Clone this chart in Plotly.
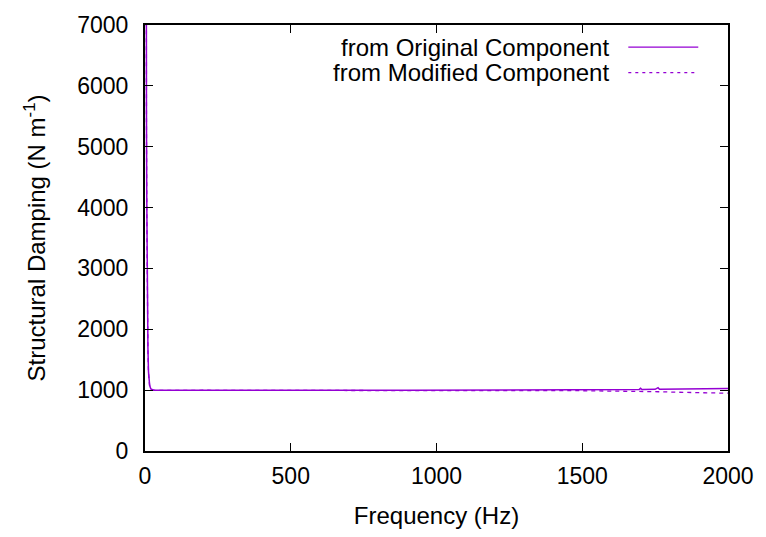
import plotly.graph_objects as go

# ---- data ----
freq_low = [1, 2, 3, 4, 5, 6, 7, 8, 10, 12, 14, 16, 20, 25, 30, 40, 50]
orig_low = [30000, 16000, 10500, 7600, 5600, 4200, 3200, 2500, 1700, 1300, 1150, 1080, 1020, 1005, 1000, 999, 998]
mod_low = [29000, 15500, 10200, 7400, 5400, 4000, 3050, 2400, 1650, 1270, 1130, 1065, 1015, 1003, 998, 997, 996]

freq_high = [100, 150, 200, 250, 300, 350, 400, 450, 500, 550, 600, 650, 700, 750, 800, 850,
             900, 950, 1000, 1050, 1100, 1150, 1200, 1250, 1300, 1350, 1400, 1450, 1500, 1550,
             1600, 1650, 1695, 1700, 1705, 1750, 1760, 1765, 1800, 1850, 1900, 1950, 2000]
orig_high = [998, 999, 1000, 999, 998, 1000, 1001, 1000, 999, 1000, 1002, 1003, 1001, 1000, 999,
             998, 999, 1000, 998, 997, 998, 999, 1000, 1001, 1000, 999, 1000, 1002, 1003, 1005,
             1007, 1009, 1010, 1030, 1011, 1013, 1040, 1014, 1016, 1018, 1020, 1022, 1025]
mod_high = [996, 997, 998, 996, 995, 997, 998, 996, 995, 996, 998, 997, 995, 994, 993,
            992, 993, 994, 992, 991, 992, 993, 994, 995, 994, 993, 992, 993, 992, 990,
            988, 985, 982, 983, 981, 975, 974, 973, 968, 963, 958, 954, 950]

freq = freq_low + freq_high
orig = orig_low + orig_high
mod = mod_low + mod_high

series_names = ["from Original Component", "from Modified Component"]
x_ticks = [0, 500, 1000, 1500, 2000]
y_ticks = [0, 1000, 2000, 3000, 4000, 5000, 6000, 7000]

PURPLE = "#9400d3"
FONT = "Liberation Sans, Arial, sans-serif"
FS = 23

fig = go.Figure()
fig.add_trace(go.Scatter(x=freq, y=orig, mode="lines", name=series_names[0],
                         line=dict(color=PURPLE, width=1.5), showlegend=False))
fig.add_trace(go.Scatter(x=freq, y=mod, mode="lines", name=series_names[1],
                         line=dict(color=PURPLE, width=1.3, dash="4px,4px"), showlegend=False))

axis_common = dict(showline=True, linecolor="black", linewidth=2, mirror="allticks",
                   ticks="inside", ticklen=8, tickwidth=1, tickcolor="black",
                   showgrid=False, zeroline=False,
                   tickfont=dict(family=FONT, size=FS, color="black"))

fig.update_xaxes(range=[0, 2000], tickvals=x_ticks, ticklabelstandoff=3,
                 title=dict(text="Frequency (Hz)", font=dict(family=FONT, size=24, color="black"),
                            standoff=20),
                 **axis_common)
fig.update_yaxes(range=[0, 7000], tickvals=y_ticks, ticklabelstandoff=10,
                 title=dict(text="Structural Damping (N m<sup>-1</sup>)",
                            font=dict(family=FONT, size=24, color="black"), standoff=25),
                 **axis_common)

# gnuplot-style legend: right-aligned text, line sample on the right
legend_rows = [(0.948, "solid"), (0.888, "3px,4px")]
for name, (ypos, dash) in zip(series_names, legend_rows):
    fig.add_annotation(xref="paper", yref="paper", x=0.800, y=ypos, text=name,
                       showarrow=False, xanchor="right", yanchor="middle",
                       font=dict(family=FONT, size=24, color="black"))
    fig.add_shape(type="line", xref="paper", yref="paper", x0=0.829, x1=0.949, y0=ypos, y1=ypos,
                  line=dict(color=PURPLE, width=1.3, dash=dash))

fig.update_layout(width=766, height=537, margin=dict(l=145, r=36, t=19, b=85),
                  plot_bgcolor="white", paper_bgcolor="white",
                  font=dict(family=FONT, color="black"))

fig.write_html("out.html")
